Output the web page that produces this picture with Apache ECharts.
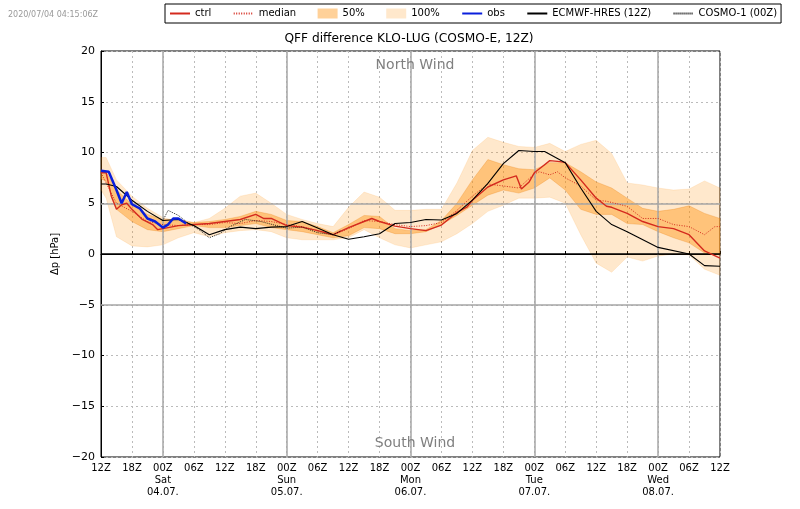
<!DOCTYPE html>
<html>
<head>
	<meta charset="utf-8">
	<title>QFF difference KLO-LUG</title>
	<script src="https://cdn.jsdelivr.net/npm/echarts@6/dist/echarts.min.js"></script>
	<style type="text/css">
		* { padding: 0; margin: 0; }
		body { background: white; }
		#chart { width: 800px; height: 509px; }
	</style>
</head>
<body>
	<div id="chart"></div>
	<script type="text/javascript">
		// hours after the 12Z model start
		var bandHours = [0,1,3,6,9,12,15,18,21,24,27,30,33,36,39,42,45,48,51,54,57,60,63,66,69,72,75,78,81,84,87,90,93,96,99,102,105,108,111,114,117,120];
		var full_hi = [9.5,9.5,7.3,5.7,4.5,3.6,3.2,3.1,3.5,4.5,5.7,6.0,5.0,3.9,3.4,3.0,2.7,4.6,6.1,5.6,4.3,4.3,4.4,4.4,7.0,10.2,11.5,11.0,10.6,10.5,10.9,10.1,10.8,11.2,9.9,7.0,6.8,6.5,6.3,6.4,7.2,6.5];
		var full_lo = [6.3,5.5,1.7,0.8,0.7,0.9,1.6,2.1,1.7,2.1,2.3,2.4,2.2,1.6,1.4,1.4,1.4,1.6,2.4,1.6,0.9,0.6,0.9,1.2,2.0,3.0,4.2,4.8,5.5,5.5,5.6,5.0,1.9,-0.9,-1.8,-0.3,-0.7,-0.2,0,-0.1,-1.5,-2.1];
		var half_hi = [8.2,8.1,6.3,4.9,3.9,3.4,3.4,3.1,3.2,3.4,3.7,4.2,3.9,3.3,3.2,2.7,2.1,2.9,3.8,3.7,2.5,2.3,2.4,3.3,5.0,7.3,9.3,8.8,8.4,8.3,9.0,9.0,8.1,7.1,6.5,5.5,4.5,4.2,4.4,4.75,4.0,3.5];
		var half_lo = [7.4,7.2,4.4,3.2,2.4,2.2,2.5,2.8,2.6,2.6,2.8,3.0,2.6,2.4,2.2,1.9,1.6,1.8,2.6,2.5,2.0,2.0,2.2,2.9,3.8,4.8,5.8,6.3,6.0,6.5,7.5,6.3,4.4,3.9,3.9,3.0,2.9,2.2,1.6,1.1,0.1,-0.1];

		var ctrlHours = [0,1,2,3,4,5,6,8,10,11,12,15,18,21,24,27,30,31.5,33,36,39,42,45,48,51,52.5,54,57,60,63,66,69,71,72,75,78,80.5,81.5,83,84,85.5,87,89,90,93,96,98,99,102,105,108,111,114,117,120];
		var ctrl = [8.0,8.0,5.7,4.4,4.85,5.0,4.4,3.4,2.9,2.4,2.5,2.8,2.9,3.0,3.2,3.4,3.9,3.5,3.5,2.8,2.65,2.3,1.9,2.6,3.2,3.5,3.2,2.75,2.5,2.3,2.85,4.1,4.65,5.3,6.6,7.3,7.7,6.4,7.1,8.0,8.6,9.2,9.1,9.0,7.3,5.5,4.7,4.6,4.0,3.2,2.7,2.5,1.9,0.3,-0.4];
		var medianHours = [0,3,6,9,12,15,18,21,24,27,30,33,36,39,42,45,48,51,54,57,60,63,66,69,72,75,78,81,84,85,87,88.5,90,93,96,98,102,105,108,111,114,117,119,120];
		var median = [8.0,5.0,4.2,3.2,2.9,2.8,2.9,2.9,3.1,3.0,3.3,3.2,2.9,2.7,2.3,1.9,2.5,3.3,3.2,2.9,2.7,2.8,3.1,4.3,5.7,6.9,6.7,6.5,7.9,8.1,7.8,8.1,7.5,6.7,5.3,5.2,4.7,3.5,3.5,2.9,2.7,1.9,2.7,2.7];
		var obsHours = [0,1.5,3,4,5,6,7.5,9,10.5,12,13,14,15,16.5];
		var obs = [8.2,8.1,6.3,5.0,6.1,4.9,4.5,3.5,3.2,2.6,2.9,3.5,3.5,3.0];
		var ecmwfHours = [0,1,3,6,9,12,15,18,21,24,27,30,33,36,39,42,45,48,51,54,57,60,63,66,69,72,75,78,81,84,86,90,93,96,99,102,108,114,117,120];
		var ecmwf = [6.9,6.9,6.65,5.3,4.2,3.3,3.4,2.8,1.9,2.4,2.65,2.5,2.65,2.7,3.2,2.55,1.9,1.45,1.7,2.0,3.0,3.1,3.4,3.35,4.0,5.3,6.95,8.9,10.2,10.1,10.1,9.0,6.5,4.2,2.9,2.2,0.65,0,-1.15,-1.2];
		var cosmoHours = [12,13,15,17,19,21,23,25,28,31,34,36,39,42,45,46.5];
		var cosmo = [3.3,4.3,3.8,3.0,2.4,1.6,2.0,2.7,3.4,3.2,2.8,2.55,2.65,2.1,1.9,2.3];

		var tickLabels = ['12Z','18Z','00Z\nSat\n04.07.','06Z','12Z','18Z','00Z\nSun\n05.07.','06Z','12Z','18Z','00Z\nMon\n06.07.','06Z','12Z','18Z','00Z\nTue\n07.07.','06Z','12Z','18Z','00Z\nWed\n08.07.','06Z','12Z'];
		var dayHours = [12,36,60,84,108];
		var strongLevels = [5,-5];
		var legendNames = ['ctrl', 'median', '50%', '100%', 'obs', 'ECMWF-HRES (12Z)', 'COSMO-1 (00Z)'];
		var patchNames = ['50%', '100%'];

		function pairs(xs, ys) {
			return xs.map(function (x, i) { return [x, ys[i]]; });
		}
		// one polygon between the low and high edge of an ensemble band
		function bandSeries(name, lo, hi, fill, edge, z) {
			return {
				name: name,
				type: 'custom',
				silent: true,
				z: z,
				itemStyle: { color: fill },
				data: [[0, 0]],
				encode: { x: 0, y: 1 },
				renderItem: function (params, api) {
					var pts = [];
					for (let i = 0; i < bandHours.length; i++) {
						pts.push(api.coord([bandHours[i], hi[i]]));
					}
					for (let i = bandHours.length - 1; i >= 0; i--) {
						pts.push(api.coord([bandHours[i], lo[i]]));
					}
					return {
						type: 'polygon',
						shape: { points: pts },
						style: { fill: fill, stroke: edge, lineWidth: 1 }
					};
				}
			};
		}
		function lineSeries(name, xs, ys, color, width, dash, z) {
			return {
				name: name,
				type: 'line',
				data: pairs(xs, ys),
				symbol: 'none',
				z: z,
				lineStyle: { color: color, width: width, type: dash },
				itemStyle: { color: color }
			};
		}

		var font = 'DejaVu Sans';
		var chart = echarts.init(document.getElementById('chart'));
		var vLines = dayHours.map(function (h) {
			return { xAxis: h, lineStyle: { color: '#a6a6a6', width: 1.5, type: 'solid' } };
		});
		var hLines = strongLevels.map(function (v) {
			return { yAxis: v, lineStyle: { color: '#a6a6a6', width: 1.5, type: 'solid' } };
		});
		hLines.push({ yAxis: 0, lineStyle: { color: '#000', width: 1.5, type: 'solid' } });

		var refLines = lineSeries('ref', [], [], '#000', 1, 'solid', 1);
		refLines.markLine = { silent: true, symbol: 'none', animation: false, label: { show: false }, data: vLines.concat(hLines) };

		chart.setOption({
			animation: false,
			backgroundColor: '#fff',
			textStyle: { fontFamily: font },
			title: [
				{ text: 'QFF difference KLO-LUG (COSMO-E, 12Z)', left: 404, top: 28, textAlign: 'center',
					textStyle: { fontSize: 12.2, fontWeight: 'normal', color: '#000', fontFamily: font } },
				{ text: '2020/07/04 04:15:06Z', left: 3, top: 6,
					textStyle: { fontSize: 8, fontWeight: 'normal', color: '#999', fontFamily: font } },
				{ text: 'North Wind', left: 410, top: 53, textAlign: 'center',
					textStyle: { fontSize: 14, fontWeight: 'normal', color: '#808080', fontFamily: font } },
				{ text: 'South Wind', left: 410, top: 431, textAlign: 'center',
					textStyle: { fontSize: 14, fontWeight: 'normal', color: '#808080', fontFamily: font } }
			],
			legend: {
				left: 165,
				top: 4,
				padding: [4.5, 4],
				itemGap: 21.4,
				itemWidth: 20,
				itemHeight: 10,
				borderColor: '#000',
				borderWidth: 1,
				textStyle: { fontSize: 10, color: '#000', fontFamily: font },
				data: legendNames.map(function (n) {
					// line entries: hide the marker, keep the line
					return patchNames.indexOf(n) >= 0 ? { name: n, icon: 'rect' } : { name: n, itemStyle: { opacity: 0 } };
				})
			},
			grid: { left: 101, right: 80, top: 51, bottom: 52, show: true, borderColor: '#000', borderWidth: 1 },
			xAxis: {
				type: 'value',
				min: 0,
				max: 120,
				interval: 6,
				axisLine: { show: true, lineStyle: { color: '#000' } },
				axisTick: { inside: true, length: 3, lineStyle: { color: '#000' } },
				splitLine: { show: true, lineStyle: { color: '#bbb', type: [2, 3] } },
				axisLabel: {
					color: '#000', fontSize: 10, lineHeight: 12, margin: 5, fontFamily: font,
					showMinLabel: true, showMaxLabel: true,
					formatter: function (v) { return tickLabels[v / 6]; }
				}
			},
			yAxis: {
				type: 'value',
				min: -20,
				max: 20,
				interval: 5,
				name: '\u0394p [hPa]',
				nameLocation: 'middle',
				nameGap: 28,
				nameTextStyle: { color: '#000', fontSize: 10, fontFamily: font },
				axisLine: { show: true, lineStyle: { color: '#000' } },
				axisTick: { inside: true, length: 3, lineStyle: { color: '#000' } },
				splitLine: { show: true, lineStyle: { color: '#bbb', type: [2, 3] } },
				axisLabel: {
					color: '#000', fontSize: 11, margin: 6, fontFamily: font,
					formatter: function (v) { return String(v).replace('-', '\u2212'); }
				}
			},
			series: [
				refLines,
				bandSeries('100%', full_lo, full_hi, 'rgba(255,140,0,0.2)', 'rgba(255,140,0,0.12)', 2),
				bandSeries('50%', half_lo, half_hi, 'rgba(255,140,0,0.4)', 'rgba(230,120,0,0.25)', 3),
				lineSeries('ctrl', ctrlHours, ctrl, '#d42a1e', 1.4, 'solid', 5),
				lineSeries('median', medianHours, median, '#d42a1e', 1, [1, 1.5], 5),
				lineSeries('ECMWF-HRES (12Z)', ecmwfHours, ecmwf, '#000', 1.1, 'solid', 6),
				lineSeries('COSMO-1 (00Z)', cosmoHours, cosmo, '#000', 0.8, [1, 1], 6),
				lineSeries('obs', obsHours, obs, '#0a1fdc', 2.5, 'solid', 7)
			]
		});
	</script>
</body>
</html>
